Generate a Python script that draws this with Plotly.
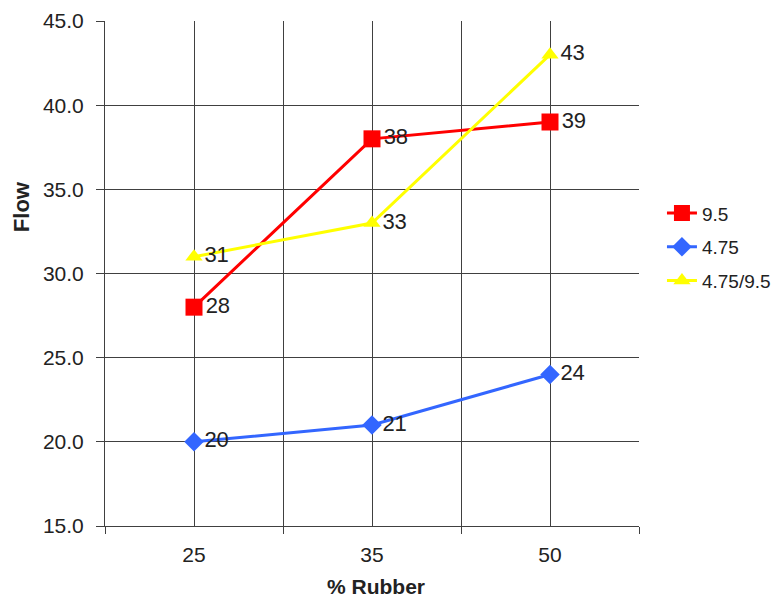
import plotly.graph_objects as go

# Flow vs. rubber content for three aggregate gradations
rubber_pct = ["25", "35", "50"]
flow_9_5 = [28, 38, 39]
flow_4_75 = [20, 21, 24]
flow_mix = [31, 33, 43]

series = [
    ("9.5", flow_9_5, "#FF0000", "square", 17),
    ("4.75", flow_4_75, "#3366FF", "diamond", 15),
    ("4.75/9.5", flow_mix, "#FFFF00", "triangle-up", 15),
]

FONT = "Liberation Sans, Arial, sans-serif"
GRID = "#404040"
TXT = "#222222"

xpos = list(range(len(rubber_pct)))

fig = go.Figure()
for name, vals, color, symbol, size in series:
    fig.add_trace(go.Scatter(
        x=xpos, y=vals, name=name, legendgroup=name,
        mode="lines+markers+text",
        line=dict(color=color, width=3),
        marker=dict(color=color, symbol=symbol, size=size),
        text=[str(v) for v in vals],
        textposition="middle right",
        textfont=dict(family=FONT, size=22, color=TXT),
        cliponaxis=False,
    ))

fig.update_layout(
    width=783, height=598,
    margin=dict(l=105, r=144, t=21, b=72, autoexpand=False),
    paper_bgcolor="white", plot_bgcolor="white",
    font=dict(family=FONT, color=TXT),
    showlegend=True,
    legend=dict(
        x=1.043, y=0.552, xanchor="left", yanchor="middle",
        font=dict(family=FONT, size=19, color=TXT),
        bgcolor="rgba(0,0,0,0)", tracegroupgap=6,
    ),
    xaxis=dict(
        range=[-0.5, 2.5], automargin=False,
        tickmode="array", tickvals=xpos, ticktext=rubber_pct,
        ticks="", showgrid=True, gridcolor=GRID, gridwidth=1,
        showline=True, linecolor=GRID, linewidth=1, mirror=False,
        zeroline=False, ticklabelstandoff=10,
        tickfont=dict(family=FONT, size=21, color=TXT),
        minor=dict(tickmode="array", tickvals=[-0.5, 0.5, 1.5, 2.5],
                   showgrid=True, gridcolor=GRID, gridwidth=1,
                   ticks="outside", ticklen=7, tickcolor=GRID),
    ),
    yaxis=dict(
        range=[15, 45], dtick=5, tickformat=".1f", automargin=False,
        ticks="outside", ticklen=8, tickcolor=GRID,
        showgrid=True, gridcolor=GRID, gridwidth=1,
        showline=True, linecolor=GRID, linewidth=1,
        zeroline=False, ticklabelstandoff=8,
        tickfont=dict(family=FONT, size=21, color=TXT),
    ),
    annotations=[
        dict(text="<b>% Rubber</b>", xref="paper", yref="paper",
             x=(376 - 105) / 534, y=-(586 - 525.6) / 504.6,
             xanchor="center", yanchor="middle", showarrow=False,
             font=dict(family=FONT, size=21, color=TXT)),
        dict(text="<b>Flow</b>", xref="paper", yref="paper",
             x=-(105 - 21) / 534, y=(525.6 - 207) / 504.6,
             xanchor="center", yanchor="middle", showarrow=False,
             textangle=-90,
             font=dict(family=FONT, size=22, color=TXT)),
    ],
)

fig.write_html("out.html")
